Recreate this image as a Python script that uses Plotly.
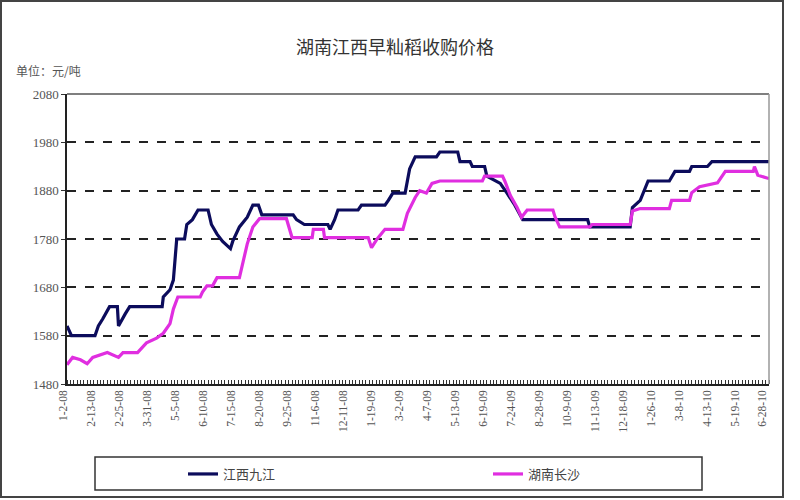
import plotly.graph_objects as go

# ---- data (trading-day index, price in 元/吨) ----
tick_labels = ["1-2-08", "2-13-08", "2-25-08", "3-31-08", "5-5-08", "6-10-08", "7-15-08",
               "8-20-08", "9-25-08", "11-6-08", "12-11-08", "1-19-09", "3-2-09", "4-7-09",
               "5-13-09", "6-19-09", "7-24-09", "8-28-09", "10-9-09", "11-13-09", "12-18-09",
               "1-26-10", "3-8-10", "4-13-10", "5-19-10", "6-28-10"]
tick_pos = [i * 25 for i in range(len(tick_labels))]

jx_idx = [0, 4, 25, 28, 32, 38, 45, 46, 52, 56, 85, 86, 92, 95, 98, 105, 107, 112, 117, 126,
          129, 134, 139, 146, 148, 154, 161, 166, 171, 174, 202, 205, 212, 233, 235, 239, 242,
          260, 263, 284, 287, 291, 302, 306, 311, 330, 333, 349, 351, 360, 362, 373, 375, 387,
          393, 400, 407, 465, 467, 503, 505, 512, 519, 538, 543, 556, 558, 572, 576, 627]
jx_val = [1600, 1580, 1580, 1600, 1615, 1640, 1640, 1600, 1625, 1640, 1640, 1660, 1675, 1695,
          1780, 1780, 1810, 1820, 1840, 1840, 1810, 1790, 1775, 1760, 1775, 1805, 1825, 1850,
          1850, 1830, 1830, 1820, 1810, 1810, 1800, 1820, 1840, 1840, 1850, 1850, 1860, 1875,
          1875, 1925, 1950, 1950, 1960, 1960, 1940, 1940, 1930, 1930, 1910, 1895, 1875, 1850,
          1820, 1820, 1805, 1805, 1845, 1860, 1900, 1900, 1920, 1920, 1930, 1930, 1940, 1940]

hn_idx = [0, 5, 12, 18, 23, 36, 46, 50, 63, 65, 71, 80, 86, 92, 95, 99, 119, 121, 125, 130,
          134, 154, 157, 161, 166, 172, 196, 198, 201, 219, 220, 229, 230, 269, 272, 277, 284,
          300, 302, 304, 311, 315, 321, 326, 333, 371, 373, 389, 391, 396, 402, 406, 411, 434,
          436, 440, 467, 469, 503, 505, 512, 538, 540, 556, 558, 565, 581, 588, 613, 614, 617, 627]
hn_val = [1520, 1535, 1530, 1522, 1535, 1545, 1535, 1545, 1545, 1550, 1565, 1575, 1585, 1605,
          1635, 1660, 1660, 1670, 1683, 1683, 1700, 1700, 1730, 1770, 1805, 1822, 1822, 1805,
          1783, 1783, 1800, 1800, 1783, 1783, 1762, 1780, 1800, 1800, 1818, 1833, 1866, 1880,
          1875, 1895, 1900, 1900, 1910, 1910, 1900, 1870, 1845, 1825, 1840, 1840, 1825, 1805,
          1805, 1810, 1810, 1838, 1843, 1843, 1860, 1860, 1876, 1888, 1896, 1920, 1920, 1930,
          1912, 1905]

series_names = ["江西九江", "湖南长沙"]

# ---- figure ----
W, H = 800, 500
L, R, T, B = 67, 31, 94, 116
PW, PH = W - L - R, H - T - B


def px_x(p):
    return (p - L) / PW


def px_y(p):
    return (H - B - p) / PH


fig = go.Figure()
fig.add_trace(go.Scatter(x=jx_idx, y=jx_val, mode="lines", name=series_names[0],
                         line=dict(color="#0c0c5c", width=3.2), legend="legend"))
fig.add_trace(go.Scatter(x=hn_idx, y=hn_val, mode="lines", name=series_names[1],
                         line=dict(color="#e02ee0", width=3.2), legend="legend2"))

serif = "Liberation Serif, DejaVu Serif, serif"
cjk = "Noto Sans CJK SC"
leg_common = dict(orientation="h", xanchor="left", yanchor="middle",
                  bgcolor="rgba(0,0,0,0)", font=dict(family=cjk, size=13, color="#444"))

fig.update_layout(
    width=W, height=H,
    margin=dict(l=L, r=R, t=T, b=B, autoexpand=False),
    paper_bgcolor="white", plot_bgcolor="white",
    showlegend=True,
    legend=dict(x=px_x(183), y=px_y(474), **leg_common),
    legend2=dict(x=px_x(488), y=px_y(474), **leg_common),
    annotations=[
        dict(text="湖南江西早籼稻收购价格", x=px_x(395), y=px_y(46), xref="paper", yref="paper",
             xanchor="center", yanchor="middle",
             showarrow=False, font=dict(family=cjk, size=18, color="#333")),
        dict(text="单位：元/吨", x=px_x(14), y=px_y(70), xref="paper", yref="paper",
             xanchor="left", yanchor="middle",
             showarrow=False, font=dict(family=cjk, size=12, color="#555")),
    ],
    shapes=[
        dict(type="line", xref="paper", yref="paper", x0=0, x1=1, y0=1, y1=1,
             line=dict(color="#555", width=1.5)),
        dict(type="line", xref="paper", yref="paper", x0=1, x1=1, y0=0, y1=1,
             line=dict(color="#999", width=1.5)),
        dict(type="rect", xref="paper", yref="paper", x0=px_x(95), x1=px_x(702),
             y0=px_y(490), y1=px_y(457), line=dict(color="#333", width=1.5)),
        dict(type="rect", xref="paper", yref="paper", x0=px_x(1), x1=px_x(783),
             y0=px_y(497), y1=px_y(1), line=dict(color="#444", width=2)),
    ],
)

fig.update_xaxes(range=[0, 627], tickmode="array", tickvals=tick_pos, ticktext=tick_labels,
                 tickangle=-90, tickfont=dict(family=serif, size=11.5, color="#555"),
                 ticklabelshift=-4, automargin=False,
                 showline=True, linecolor="#222", linewidth=1.5, showgrid=False,
                 ticks="", zeroline=False,
                 minor=dict(dtick=3, ticks="inside", ticklen=4, tickcolor="#333", showgrid=False))
fig.update_yaxes(range=[1480, 2080], dtick=100, tick0=1480, automargin=False,
                 tickfont=dict(family=serif, size=13, color="#555"),
                 showline=True, linecolor="#222", linewidth=1.5,
                 showgrid=True, gridcolor="#222", griddash="dash", gridwidth=1.5,
                 ticks="outside", ticklen=4, tickcolor="#333", zeroline=False)

fig.write_html("out.html", config={"displayModeBar": False},
               post_script="document.body.style.margin='0';document.body.style.overflow='hidden';")
